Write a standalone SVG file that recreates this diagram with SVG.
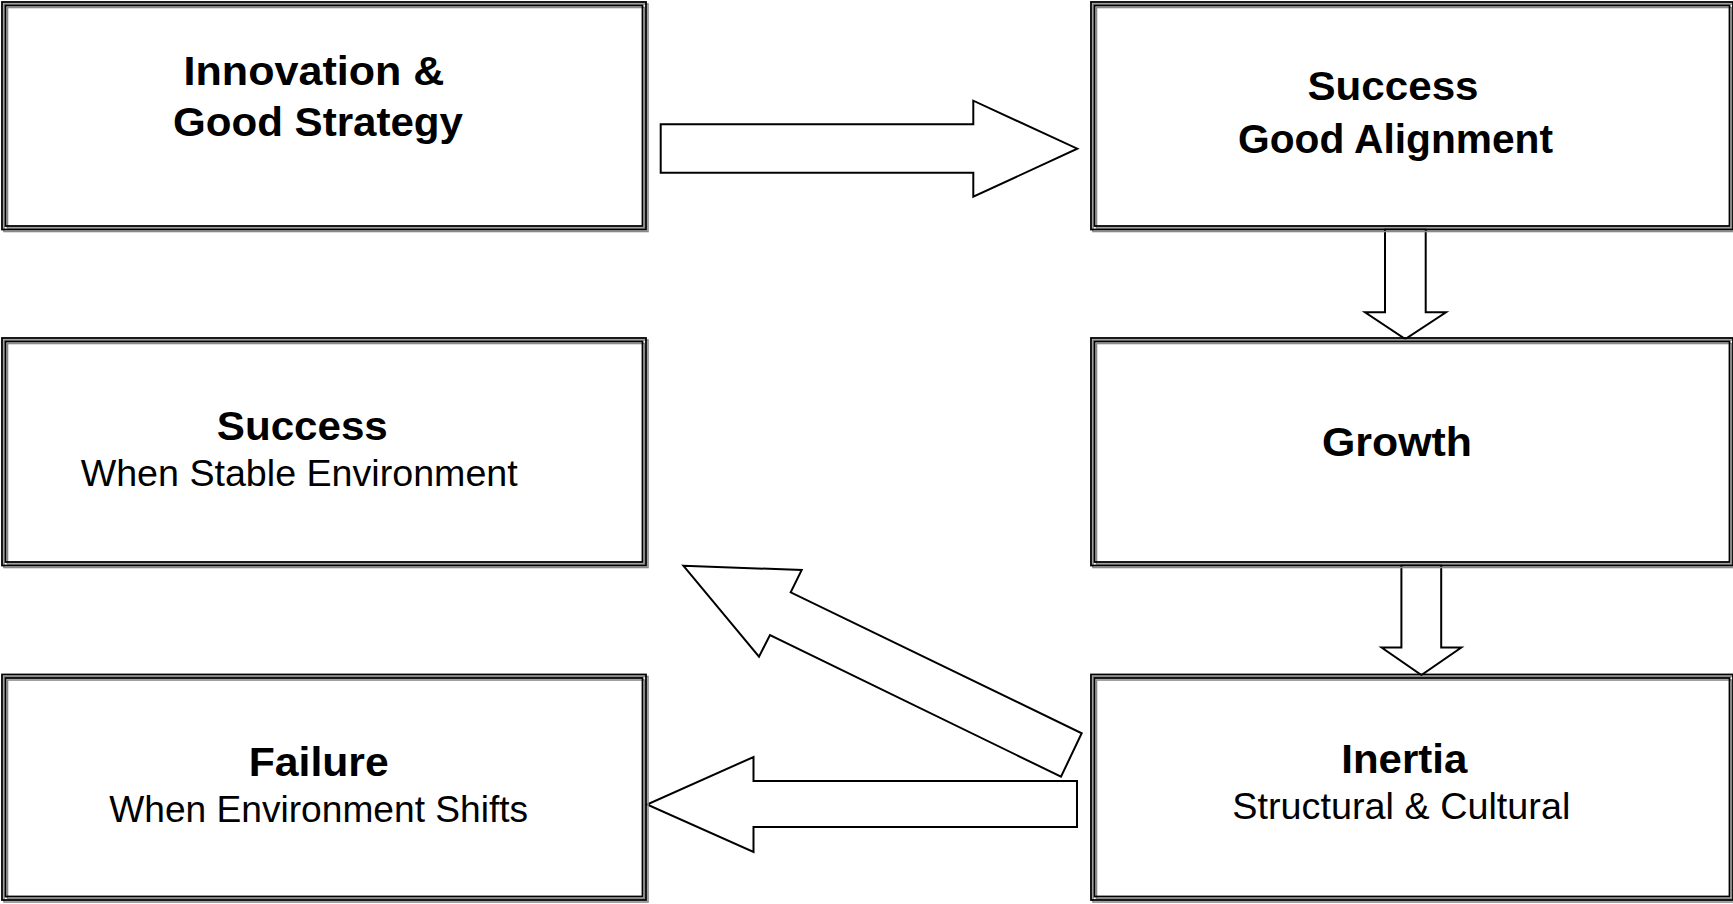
<svg xmlns="http://www.w3.org/2000/svg" width="1733" height="904" viewBox="0 0 1733 904">
  <style>
    .shadow { fill: none; stroke: #8a8a8a; stroke-width: 1.6; }
    .frame { fill: none; stroke: #000; stroke-width: 1.8; }
    .arrow { fill: #fff; stroke: #000; stroke-width: 2; stroke-linejoin: miter; }
    .b { font-family: "Liberation Sans", Arial, sans-serif; font-weight: bold; font-size: 40px; fill: #000; text-anchor: middle; }
    .r { font-family: "Liberation Sans", Arial, sans-serif; font-size: 36px; fill: #000; text-anchor: middle; }
  </style>
  <rect width="1733" height="904" fill="#fff"/>

  <!-- block arrows -->
  <g id="connectors">
    <polygon class="arrow" points="660.7,124.3 973.3,124.3 973.3,100.7 1077.3,148.7 973.3,196.7 973.3,172.7 660.7,172.7"/>
    <polygon class="arrow" points="1385,229 1425.7,229 1425.7,312.3 1446,312.3 1405.3,339 1365,312.3 1385,312.3"/>
    <polygon class="arrow" points="1401.4,565 1441.2,565 1441.2,647.5 1461.3,647.5 1421.4,675 1381.6,647.5 1401.4,647.5"/>
    <polygon class="arrow" points="683.3,565.7 801.7,570 790.7,592.3 1081.7,733.3 1061,776.7 770,635 759,656.7"/>
    <polygon class="arrow" points="1077,781 753.5,781 753.5,757 647,804.5 753.5,852 753.5,827 1077,827"/>
  </g>

  <!-- double-ruled boxes -->
  <g id="innovation">
    <rect class="shadow" x="4" y="4" width="644" height="227.5"/>
    <rect class="shadow" x="7.5" y="7.5" width="637" height="220.5"/>
    <rect class="frame" x="2" y="2" width="644" height="227.5"/>
    <rect class="frame" x="5.5" y="5.5" width="637" height="220.5"/>
    <text class="b" x="314" y="85" textLength="261" lengthAdjust="spacingAndGlyphs">Innovation &amp;</text>
    <text class="b" x="318" y="136" textLength="290" lengthAdjust="spacingAndGlyphs">Good Strategy</text>
  </g>

  <g id="success-alignment">
    <rect class="shadow" x="1093" y="4" width="642" height="227.5"/>
    <rect class="shadow" x="1096.5" y="7.5" width="635" height="220.5"/>
    <rect class="frame" x="1091" y="2" width="642" height="227.5"/>
    <rect class="frame" x="1094.5" y="5.5" width="635" height="220.5"/>
    <text class="b" x="1393" y="100" textLength="171" lengthAdjust="spacingAndGlyphs">Success</text>
    <text class="b" x="1395.5" y="153" textLength="315" lengthAdjust="spacingAndGlyphs">Good Alignment</text>
  </g>

  <g id="success-stable">
    <rect class="shadow" x="4" y="340" width="644" height="227.5"/>
    <rect class="shadow" x="7.5" y="343.5" width="637" height="220.5"/>
    <rect class="frame" x="2" y="338" width="644" height="227.5"/>
    <rect class="frame" x="5.5" y="341.5" width="637" height="220.5"/>
    <text class="b" x="302.3" y="440" textLength="171" lengthAdjust="spacingAndGlyphs">Success</text>
    <text class="r" x="299.2" y="486" textLength="437" lengthAdjust="spacingAndGlyphs">When Stable Environment</text>
  </g>

  <g id="growth">
    <rect class="shadow" x="1093" y="340" width="642" height="227.5"/>
    <rect class="shadow" x="1096.5" y="343.5" width="635" height="220.5"/>
    <rect class="frame" x="1091" y="338" width="642" height="227.5"/>
    <rect class="frame" x="1094.5" y="341.5" width="635" height="220.5"/>
    <text class="b" x="1397" y="456" textLength="150" lengthAdjust="spacingAndGlyphs">Growth</text>
  </g>

  <g id="failure">
    <rect class="shadow" x="4" y="676.5" width="644" height="225.5"/>
    <rect class="shadow" x="7.5" y="680" width="637" height="218.5"/>
    <rect class="frame" x="2" y="674.5" width="644" height="225.5"/>
    <rect class="frame" x="5.5" y="678" width="637" height="218.5"/>
    <text class="b" x="318.7" y="776" textLength="140" lengthAdjust="spacingAndGlyphs">Failure</text>
    <text class="r" x="318.7" y="822" textLength="419" lengthAdjust="spacingAndGlyphs">When Environment Shifts</text>
  </g>

  <g id="inertia">
    <rect class="shadow" x="1093" y="676.5" width="642" height="225.5"/>
    <rect class="shadow" x="1096.5" y="680" width="635" height="218.5"/>
    <rect class="frame" x="1091" y="674.5" width="642" height="225.5"/>
    <rect class="frame" x="1094.5" y="678" width="635" height="218.5"/>
    <text class="b" x="1404.3" y="772.5" textLength="126" lengthAdjust="spacingAndGlyphs">Inertia</text>
    <text class="r" x="1401.3" y="819" textLength="338" lengthAdjust="spacingAndGlyphs">Structural &amp; Cultural</text>
  </g>
</svg>
